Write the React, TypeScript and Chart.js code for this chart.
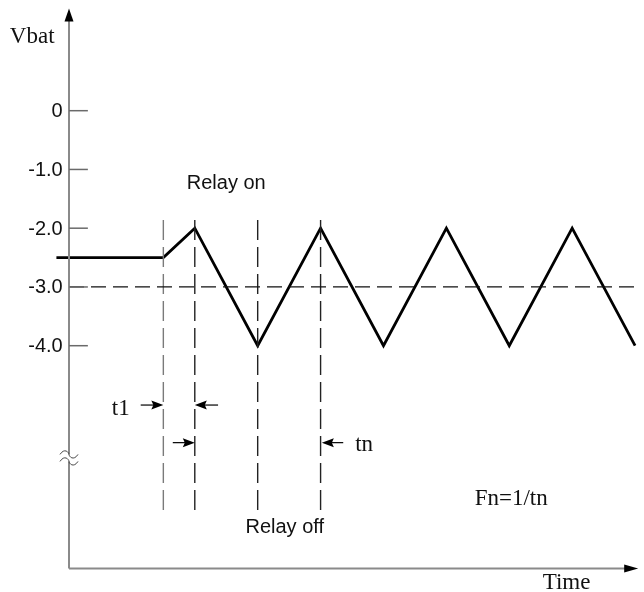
import React, { useEffect, useRef } from "react";
import { Chart, registerables } from "chart.js";

Chart.register(...registerables);

// ---- data ----
const WAVE_T = [-0.2, 1.5, 2, 3, 4, 5, 6, 7, 8, 9];
const WAVE_V = [-2.5, -2.5, -2, -4, -2, -4, -2, -4, -2, -4];

const TICK_VALUES = [0, -1, -2, -3, -4];
const TICK_LABELS = ["0", "-1.0", "-2.0", "-3.0", "-4.0"];

const MARKER_T = [1.5, 2, 3, 4];
const MARKER_TOP = -1.86;
const MARKER_BOTTOM = -6.81;

const THRESHOLD_V = -3;
const THRESHOLD_T = [0, 9.08];

const ARROW_FROM = [1.14, 2.37, 1.65, 4.36];
const ARROW_TO = [1.5, 2.0, 2.0, 4.02];
const ARROW_V = [-5.01, -5.01, -5.65, -5.65];

const AXIS_TOP = 1.74;
const AXIS_BOTTOM = -7.79;
const AXIS_RIGHT = 9.05;
const BREAK_V = -5.91;

const SANS = "20px 'Liberation Sans', Arial, sans-serif";
const SERIF = "23px 'Liberation Serif', 'Times New Roman', serif";

const TEXTS = [
  { text: "Vbat", t: -0.94, v: 1.15, font: SERIF, align: "left" },
  { text: "Relay on", t: 2.5, v: -1.33, font: SANS, align: "center" },
  { text: "Relay off", t: 3.43, v: -7.18, font: SANS, align: "center" },
  { text: "t1", t: 0.68, v: -5.18, font: SERIF, align: "left" },
  { text: "tn", t: 4.55, v: -5.8, font: SERIF, align: "left" },
  { text: "Fn=1/tn", t: 7.03, v: -6.71, font: SERIF, align: "center" },
  { text: "Time", t: 7.91, v: -8.14, font: SERIF, align: "center" },
];

const AXIS_COLOR = "#8a8a8a";

const decorPlugin = {
  id: "decor",
  afterDatasetsDraw(chart: any) {
    const { ctx, scales } = chart;
    const xs = scales.x;
    const ys = scales.y;
    const px = (v: number) => xs.getPixelForValue(v);
    const py = (v: number) => ys.getPixelForValue(v);
    ctx.save();

    const x0 = px(0);
    const yB = py(AXIS_BOTTOM);

    // axes lines
    ctx.strokeStyle = AXIS_COLOR;
    ctx.fillStyle = "#000";
    ctx.lineWidth = 2;
    ctx.beginPath();
    ctx.moveTo(x0, yB);
    ctx.lineTo(x0, py(AXIS_TOP) + 10);
    ctx.stroke();
    ctx.beginPath();
    ctx.moveTo(x0, yB);
    ctx.lineTo(px(AXIS_RIGHT) - 10, yB);
    ctx.stroke();

    // arrowheads on axes
    const yt = py(AXIS_TOP);
    ctx.beginPath();
    ctx.moveTo(x0, yt);
    ctx.lineTo(x0 - 4.5, yt + 13);
    ctx.lineTo(x0 + 4.5, yt + 13);
    ctx.closePath();
    ctx.fill();
    const xr = px(AXIS_RIGHT);
    ctx.beginPath();
    ctx.moveTo(xr, yB);
    ctx.lineTo(xr - 14, yB - 4);
    ctx.lineTo(xr - 14, yB + 4);
    ctx.closePath();
    ctx.fill();

    // ticks and labels
    ctx.lineWidth = 1.5;
    ctx.font = SANS;
    ctx.textAlign = "right";
    ctx.textBaseline = "middle";
    TICK_VALUES.forEach((v, i) => {
      const y = py(v);
      ctx.strokeStyle = "#6a6a6a";
      ctx.beginPath();
      ctx.moveTo(x0, y);
      ctx.lineTo(px(0.3), y);
      ctx.stroke();
      ctx.fillStyle = "#111";
      ctx.fillText(TICK_LABELS[i], px(-0.1), y + 1);
    });

    // axis break mark
    const yb = py(BREAK_V);
    const w = 9;
    const wave = (yy: number) => {
      ctx.moveTo(x0 - w, yy);
      ctx.bezierCurveTo(x0 - w / 2, yy - 7, x0, yy - 2, x0, yy);
      ctx.bezierCurveTo(x0, yy + 2, x0 + w / 2, yy + 7, x0 + w, yy);
    };
    ctx.fillStyle = "#fff";
    ctx.fillRect(x0 - 3, yb - 3.5, 6, 7);
    ctx.strokeStyle = "#444";
    ctx.lineWidth = 1;
    ctx.beginPath();
    wave(yb - 3.5);
    wave(yb + 3.5);
    ctx.stroke();

    // dimension arrows
    ctx.strokeStyle = "#000";
    ctx.fillStyle = "#000";
    ctx.lineWidth = 1.2;
    ARROW_FROM.forEach((f, i) => {
      const xa = px(f);
      const xb = px(ARROW_TO[i]);
      const y = py(ARROW_V[i]);
      const dir = xb > xa ? 1 : -1;
      ctx.beginPath();
      ctx.moveTo(xa, y);
      ctx.lineTo(xb - dir * 8, y);
      ctx.stroke();
      ctx.beginPath();
      ctx.moveTo(xb, y);
      ctx.lineTo(xb - dir * 12, y - 4.5);
      ctx.lineTo(xb - dir * 10, y);
      ctx.lineTo(xb - dir * 12, y + 4.5);
      ctx.closePath();
      ctx.fill();
    });

    // texts
    ctx.textBaseline = "alphabetic";
    ctx.fillStyle = "#111";
    TEXTS.forEach((tx) => {
      ctx.font = tx.font;
      ctx.textAlign = tx.align as CanvasTextAlign;
      ctx.fillText(tx.text, px(tx.t), py(tx.v));
    });

    ctx.restore();
  },
};

export default function App() {
  const ref = useRef<HTMLCanvasElement | null>(null);

  useEffect(() => {
    if (!ref.current) return;
    const datasets: any[] = [];

    datasets.push({
      label: "threshold",
      data: THRESHOLD_T.map((t) => ({ x: t, y: THRESHOLD_V })),
      borderColor: "#111",
      borderWidth: 1.3,
      borderDash: [15, 7],
      pointRadius: 0,
    });

    MARKER_T.forEach((t, i) => {
      datasets.push({
        label: "marker" + i,
        data: [
          { x: t, y: MARKER_TOP },
          { x: t, y: MARKER_BOTTOM },
        ],
        borderColor: i === 0 ? "#7a7a7a" : "#222",
        borderWidth: 1.4,
        borderDash: [20, 7],
        pointRadius: 0,
      });
    });

    datasets.push({
      label: "Vbat",
      data: WAVE_T.map((t, i) => ({ x: t, y: WAVE_V[i] })),
      borderColor: "#000",
      borderWidth: 2.8,
      pointRadius: 0,
      borderJoinStyle: "miter",
      tension: 0,
    });

    const chart = new Chart(ref.current, {
      type: "line",
      data: { datasets },
      options: {
        responsive: false,
        animation: false,
        layout: { padding: 0 },
        plugins: { legend: { display: false }, tooltip: { enabled: false }, title: { display: false } },
        scales: {
          x: { type: "linear", min: -1.097, max: 9.142, display: false },
          y: { type: "linear", min: -8.192, max: 1.884, display: false },
        },
      },
      plugins: [decorPlugin],
    });
    return () => chart.destroy();
  }, []);

  return (
    <div style={{ position: "absolute", left: 0, top: 0, width: 644, height: 592, background: "#fff" }}>
      <canvas ref={ref} width={644} height={592} style={{ width: 644, height: 592, display: "block" }} />
    </div>
  );
}
